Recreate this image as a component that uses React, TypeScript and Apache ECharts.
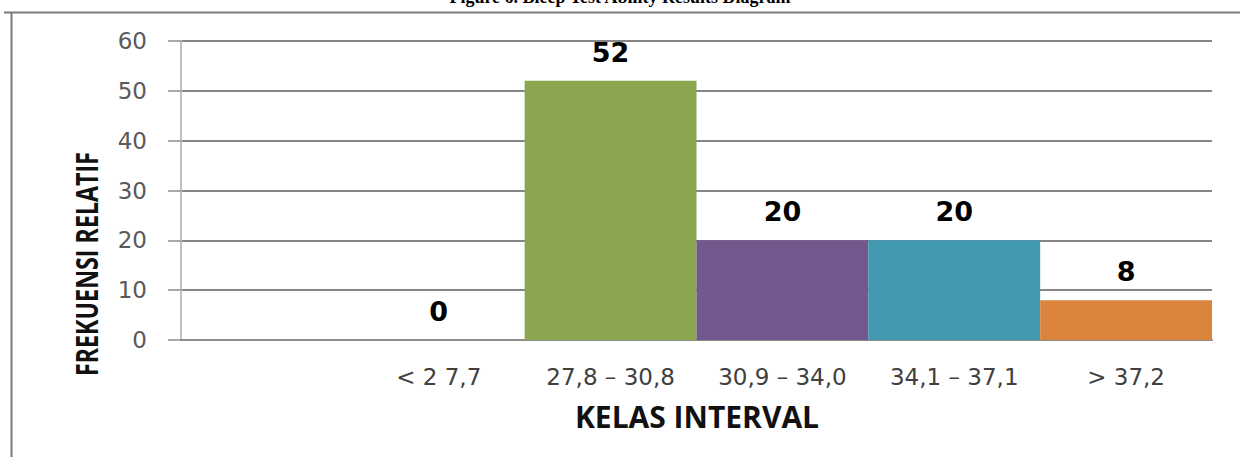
import React, { useEffect, useRef } from "react";
import * as echarts from "echarts";

const categories = ["", "< 2 7,7", "27,8 – 30,8", "30,9 – 34,0", "34,1 – 37,1", "> 37,2"];
const values: (number | null)[] = [null, 0, 52, 20, 20, 8];
const barColors = ["#ffffff", "#ffffff", "#8aa64e", "#71588f", "#4198af", "#db843d"];
const yTicks = { min: 0, max: 60, interval: 10 };
const xAxisName = "KELAS INTERVAL";
const yAxisName = "FREKUENSI RELATIF";
const titleText = "Figure 6. Bleep Test Ability Results Diagram";

export default function App() {
  const ref = useRef<HTMLDivElement>(null);
  useEffect(() => {
    const chart = echarts.init(ref.current!, undefined, { renderer: "svg" });
    chart.setOption({
      animation: false,
      backgroundColor: "#ffffff",
      grid: { left: 181, right: 28, top: 41, bottom: 117 },
      xAxis: {
        type: "category",
        data: categories,
        axisLine: { show: true, lineStyle: { color: "#8c8c8c", width: 2 } },
        axisTick: { show: false },
        axisLabel: {
          interval: 0,
          margin: 25,
          color: "#404040",
          fontSize: 23,
          fontFamily: "DejaVu Sans, sans-serif",
        },
      },
      yAxis: {
        type: "value",
        min: yTicks.min,
        max: yTicks.max,
        interval: yTicks.interval,
        axisLine: { show: true, lineStyle: { color: "#c0c0c0", width: 2 } },
        axisTick: { show: true, length: 13, lineStyle: { color: "#8c8c8c", width: 1.5 } },
        splitLine: { show: true, lineStyle: { color: "#868686", width: 1.8 } },
        axisLabel: {
          margin: 34,
          color: "#595959",
          fontSize: 23,
          fontFamily: "DejaVu Sans, sans-serif",
        },
      },
      series: [
        {
          type: "bar",
          data: values.map((v, i) => (v === null ? null : { value: v, itemStyle: { color: barColors[i] } })),
          barWidth: "100%",
          label: {
            show: true,
            position: "top",
            distance: 15,
            color: "#000",
            fontSize: 27,
            fontWeight: "bold",
            fontFamily: "DejaVu Sans, sans-serif",
          },
        },
      ],
      graphic: [
        { type: "line", shape: { x1: 11.5, y1: 12, x2: 11.5, y2: 457 }, style: { stroke: "#7a7a7a", lineWidth: 2 } },
        { type: "line", shape: { x1: 4, y1: 12.5, x2: 1240, y2: 12.5 }, style: { stroke: "#7a7a7a", lineWidth: 2 } },
        {
          type: "text",
          x: 620,
          y: 6,
          style: {
            text: titleText,
            fill: "#000",
            font: "bold 18px 'Liberation Serif', serif",
            textAlign: "center",
            textVerticalAlign: "bottom",
          },
        },
        {
          type: "text",
          x: 697,
          y: 416,
          style: {
            text: xAxisName,
            fill: "#111",
            font: "bold 30px 'Open Sans', sans-serif",
            textAlign: "center",
            textVerticalAlign: "middle",
          },
        },
        {
          type: "text",
          x: 86,
          y: 264,
          rotation: Math.PI / 2,
          scaleX: 0.75,
          style: {
            text: yAxisName,
            fill: "#111",
            font: "bold 31px 'Open Sans', sans-serif",
            textAlign: "center",
            textVerticalAlign: "middle",
          },
        },
      ],
    });
    return () => chart.dispose();
  }, []);
  return <div ref={ref} style={{ position: "fixed", left: 0, top: 0, width: 1240, height: 457 }} />;
}
